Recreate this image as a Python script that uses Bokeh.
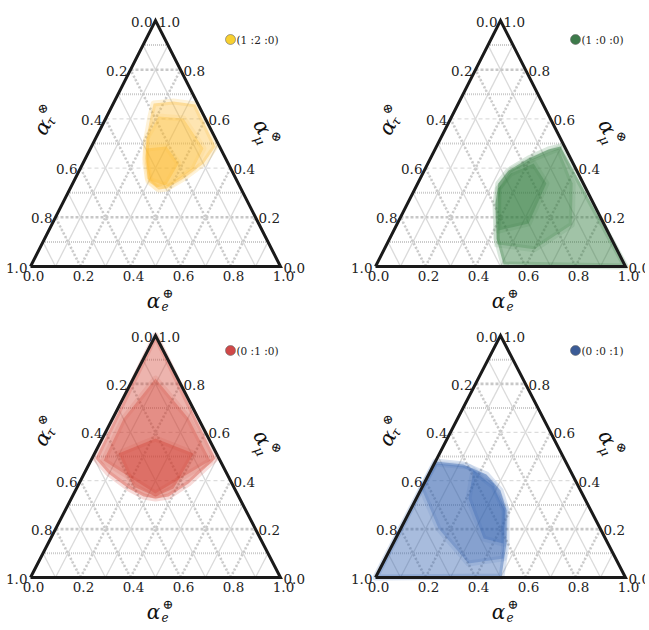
import math
from bokeh.plotting import figure
from bokeh.layouts import gridplot
from bokeh.models import Range1d
from bokeh.embed import file_html
from bokeh.resources import INLINE
from bokeh.core.properties import value

# ---------------- data ----------------
tick_values = [0.0, 0.2, 0.4, 0.6, 0.8, 1.0]
tick_labels = ["0.0", "0.2", "0.4", "0.6", "0.8", "1.0"]
grid_levels = [0.1, 0.2, 0.3, 0.4, 0.5, 0.6, 0.7, 0.8, 0.9]

source_labels = ["(1 :2 :0)", "(1 :0 :0)", "(0 :1 :0)", "(0 :0 :1)"]
legend_colors = ["#f8d030", "#3d7a4a", "#d04848", "#3b5b96"]
cloud_colors = ["#fbb829", "#2f7a3b", "#d0392b", "#2f5fae"]

# flavour-composition regions at Earth (alpha_e, alpha_mu)
yellow_outer_e = [0.161, 0.236, 0.330, 0.496, 0.483, 0.433, 0.386, 0.356, 0.299, 0.250, 0.204, 0.175]
yellow_outer_mu = [0.663, 0.671, 0.659, 0.488, 0.419, 0.358, 0.317, 0.313, 0.346, 0.419, 0.520, 0.610]
yellow_mid_e = [0.204, 0.207, 0.311, 0.452, 0.453, 0.390, 0.305, 0.240]
yellow_mid_mu = [0.520, 0.610, 0.602, 0.480, 0.398, 0.325, 0.350, 0.439]
yellow_core_e = [0.224, 0.300, 0.383, 0.377, 0.344, 0.289]
yellow_core_mu = [0.480, 0.488, 0.419, 0.333, 0.321, 0.358]

green_outer_e = [0.496, 1.000, 0.508, 0.427, 0.352, 0.323, 0.337, 0.393, 0.454]
green_outer_mu = [0.488, 0.000, 0.008, 0.114, 0.256, 0.337, 0.390, 0.439, 0.476]
green_mid_e = [0.333, 0.345, 0.412, 0.492, 0.620, 0.700, 0.600, 0.440]
green_mid_mu = [0.317, 0.390, 0.439, 0.480, 0.337, 0.170, 0.070, 0.090]
green_core_e = [0.333, 0.351, 0.423, 0.515, 0.525, 0.419]
green_core_mu = [0.317, 0.378, 0.419, 0.337, 0.175, 0.146]

red_outer_e = [0.000, 0.014, 0.097, 0.208, 0.285, 0.337, 0.385, 0.438, 0.494]
red_outer_mu = [1.000, 0.492, 0.430, 0.368, 0.335, 0.326, 0.335, 0.388, 0.492]
red_mid_e = [0.089, 0.044, 0.051, 0.326, 0.478, 0.304]
red_mid_mu = [0.822, 0.657, 0.483, 0.347, 0.483, 0.657]
red_core_e = [0.096, 0.213, 0.396, 0.388, 0.333, 0.224]
red_core_mu = [0.512, 0.574, 0.512, 0.368, 0.335, 0.376]

blue_outer_e = [0.000, 0.000, 0.118, 0.231, 0.320, 0.386, 0.454, 0.502]
blue_outer_mu = [0.000, 0.479, 0.467, 0.426, 0.360, 0.277, 0.140, 0.004]
blue_mid_e = [0.004, 0.143, 0.278, 0.377, 0.473, 0.343, 0.151, 0.000]
blue_mid_mu = [0.471, 0.459, 0.388, 0.285, 0.079, 0.058, 0.202, 0.368]
blue_core_e = [0.171, 0.284, 0.378, 0.442, 0.352, 0.209]
blue_core_mu = [0.442, 0.376, 0.277, 0.140, 0.161, 0.326]

clouds = [
    [(yellow_outer_e, yellow_outer_mu), (yellow_mid_e, yellow_mid_mu), (yellow_core_e, yellow_core_mu)],
    [(green_outer_e, green_outer_mu), (green_mid_e, green_mid_mu), (green_core_e, green_core_mu)],
    [(red_outer_e, red_outer_mu), (red_mid_e, red_mid_mu), (red_core_e, red_core_mu)],
    [(blue_outer_e, blue_outer_mu), (blue_mid_e, blue_mid_mu), (blue_core_e, blue_core_mu)],
]
cloud_alphas = [[0.36, 0.3, 0.36], [0.45, 0.25, 0.3], [0.38, 0.3, 0.34], [0.42, 0.28, 0.32]]

# ---------------- layout (pixels) ----------------
W_LEFT, W_RIGHT = 316, 329
H_TOP, H_BOT = 317, 307
# triangle bottom-left (local px from figure left / top) and px per unit
panels = [
    dict(ox=30, oy=266, sx=250, sy=246, w=W_LEFT, h=H_TOP),
    dict(ox=59, oy=266, sx=250, sy=246, w=W_RIGHT, h=H_TOP),
    dict(ox=30, oy=260, sx=250, sy=242, w=W_LEFT, h=H_BOT),
    dict(ox=59, oy=260, sx=250, sy=242, w=W_RIGHT, h=H_BOT),
]

SERIF = value("DejaVu Serif")
TXT = "#222222"


def cart(e, mu):
    return e + mu / 2.0, mu


def make_panel(i):
    g = panels[i]
    sx, sy, W, H = g["sx"], g["sy"], g["w"], g["h"]
    p = figure(width=W, height=H,
               x_range=Range1d(-g["ox"] / sx, (W - g["ox"]) / sx),
               y_range=Range1d(-(H - g["oy"]) / sy, g["oy"] / sy),
               output_backend="svg", toolbar_location=None,
               x_axis_type=None, y_axis_type=None, min_border=0)
    p.outline_line_color = None
    p.grid.visible = False

    def rel(rx, ry):
        return rx / sx, ry / sy

    # ---- grid lines ----
    def hline(m):
        return [cart(0, m)[0], cart(1 - m, m)[0]], [m, m]

    def aline(e):  # constant alpha_e
        return [cart(e, 0)[0], cart(e, 1 - e)[0]], [0, 1 - e]

    def bline(t):  # constant alpha_tau
        return [cart(1 - t, 0)[0], cart(0, 1 - t)[0]], [0, 1 - t]

    for k, lv in enumerate(grid_levels):
        even = (k % 2 == 1)
        xs, ys = hline(lv)
        if even:
            if lv in (0.2, 0.8):
                p.line(xs, ys, line_color="#c8c8c8", line_width=2.6, line_dash="3 2")
            else:
                p.line(xs, ys, line_color="#d4d4d4", line_width=1.0, line_dash="4 3")
        else:
            p.line(xs, ys, line_color="#cbcbcb", line_width=2.0, line_dash="1 1")
        for fn in (aline, bline):
            xs, ys = fn(lv)
            if even:
                p.line(xs, ys, line_color="#dcdcdc", line_width=0.8, line_dash="3 3")
                p.line(xs, ys, line_color="#cacaca", line_width=2.6, line_dash="2 2")
            else:
                p.line(xs, ys, line_color="#dadada", line_width=1.3)

    # ---- cloud ----
    for j, ((es, ms), a) in enumerate(zip(clouds[i], cloud_alphas[i])):
        xs = [cart(e, m)[0] for e, m in zip(es, ms)]
        p.patch(xs, list(ms), fill_color=cloud_colors[i], fill_alpha=a,
                line_color=cloud_colors[i], line_alpha=0.1 if j else 0.18,
                line_width=6, line_join="round")

    # ---- triangle ----
    tx = [cart(0, 0)[0], cart(1, 0)[0], cart(0, 1)[0], cart(0, 0)[0]]
    ty = [0, 0, 1, 0]
    p.line(tx, ty, line_color="#1a1a1a", line_width=3, line_join="miter")

    # ---- tick labels ----
    fs = "13.5px"
    bx = [cart(v, 0)[0] + rel(3, 0)[0] for v in tick_values]
    by = [rel(0, -4)[1]] * len(tick_values)
    p.text(bx, by, text=tick_labels, text_font=SERIF, text_font_size=fs, text_color=TXT,
           text_align="center", text_baseline="top")
    rx = [cart(1 - v, v)[0] + rel(3, 0)[0] for v in tick_values]
    ry = [v + rel(0, -1)[1] for v in tick_values]
    p.text(rx, ry, text=tick_labels, text_font=SERIF, text_font_size=fs, text_color=TXT,
           text_align="left", text_baseline="alphabetic")
    lx = [cart(0, 1 - v)[0] - rel(3, 0)[0] for v in tick_values]
    ly = [(1 - v) + rel(0, -1)[1] for v in tick_values]
    p.text(lx, ly, text=tick_labels, text_font=SERIF, text_font_size=fs, text_color=TXT,
           text_align="right", text_baseline="alphabetic")

    # ---- axis titles ----
    def put(rxp, ryp, t, size, angle=0.0, italic=True):
        x, y = rel(rxp, ryp)
        p.text([x], [y], text=[t], text_font=SERIF, text_font_size=size,
               text_font_style="italic" if italic else "normal", text_color="#111111",
               text_align="center", text_baseline="middle", angle=angle,
               angle_units="rad")

    put(123, -34.5, "α", "20px")
    put(134.5, -39.5, "e", "12px")
    put(137.5, -27, "⊕", "13px", italic=False)

    a60 = math.radians(60)
    put(12, 139.5, "α", "21px", a60)
    put(20.5, 145, "τ", "13px", a60)
    put(12, 158, "⊗", "13px", a60, italic=False)

    put(231.5, 139.5, "α", "21px", -a60)
    put(229, 126, "μ", "13px", -a60)
    put(246, 130, "⊗", "13px", -a60, italic=False)

    # ---- legend ----
    lxp, lyp = rel(200, 227)
    p.scatter([lxp], [lyp], size=10, fill_color=legend_colors[i], line_color="#666666",
              line_width=0.6)
    tx0, _ = rel(206, 0)
    p.text([tx0], [lyp], text=[source_labels[i]], text_font=SERIF, text_font_size="10.5px",
           text_color="#222222", text_align="left", text_baseline="middle")
    return p


figs = [make_panel(i) for i in range(4)]
grid = gridplot([[figs[0], figs[1]], [figs[2], figs[3]]], toolbar_location=None)
open("out.html", "w").write(file_html(grid, INLINE))
